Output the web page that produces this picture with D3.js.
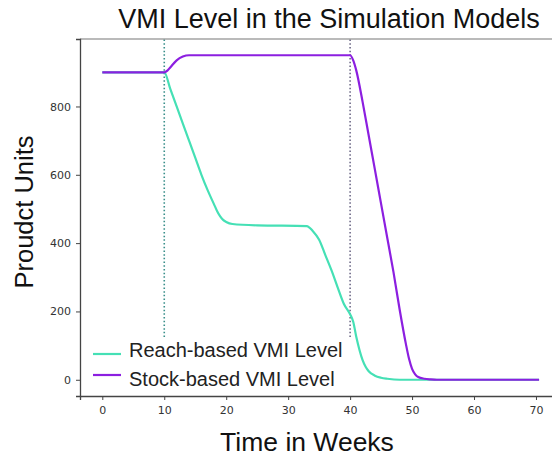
<!DOCTYPE html>
<html>
<head>
<meta charset="utf-8">
<script src="https://cdn.jsdelivr.net/npm/d3@7"></script>
<style>
  body { margin: 0; background: #fff; }
  text { font-family: "Liberation Sans", Arial, sans-serif; }
</style>
</head>
<body>
<div id="chart"></div>
<script>
// data
const reachWeeks  = [0, 10, 11, 12, 13, 14, 15, 16, 17, 18, 18.5, 19, 19.5, 20, 21, 25, 33, 34, 35, 36, 37, 38, 39, 40, 40.5, 41, 41.5, 42, 42.5, 43, 44, 45, 46, 48, 70.5];
const reachValues = [900, 900, 850, 800, 750, 700, 650, 600, 555, 515, 495, 479, 468, 462, 456, 452, 450, 435, 410, 365, 320, 270, 222, 192, 170, 125, 88, 58, 38, 25, 12, 6, 3, 0, 0];
const stockWeeks  = [0, 10, 10.5, 11, 12, 13, 14, 40, 40.5, 41, 42, 43, 44, 45, 46, 47, 48, 49, 49.5, 50, 50.5, 51, 52, 53, 54, 70.5];
const stockValues = [900, 900, 905, 915, 935, 946, 950, 950, 935, 905, 815, 715, 615, 515, 415, 315, 205, 105, 62, 32, 16, 8, 3, 1, 0, 0];
const markerWeeks = [10, 40];
const xTicks = [0, 10, 20, 30, 40, 50, 60, 70];
const yTicks = [0, 200, 400, 600, 800];
const seriesNames = ["Reach-based VMI Level", "Stock-based VMI Level"];

const W = 552, H = 456;
const margin = {top: 39, right: -10, bottom: 60, left: 80};
const width = W - margin.left - margin.right,
      height = H - margin.top - margin.bottom;

const svg = d3.select("#chart")
  .append("svg")
    .attr("width", W)
    .attr("height", H);

const g = svg.append("g")
    .attr("transform", `translate(${margin.left},${margin.top})`);

const x = d3.scaleLinear().domain([-3.6, 74.2]).range([0, width]);
const y = d3.scaleLinear().domain([-47.5, 997.5]).range([height, 0]);

// vertical dotted markers
const markerColors = ["#3a8f8a", "#6e6a88"];
g.selectAll(".marker")
  .data(markerWeeks)
  .enter().append("line")
    .attr("x1", d => x(d)).attr("x2", d => x(d))
    .attr("y1", y(125)).attr("y2", 0)
    .attr("stroke", (d, i) => markerColors[i])
    .attr("stroke-width", 1.6)
    .attr("stroke-dasharray", "1.5,2.2");

const line = d3.line()
  .x(d => x(d[0]))
  .y(d => y(d[1]))
  .curve(d3.curveMonotoneX);

const reach = reachWeeks.map((w, i) => [w, reachValues[i]]);
const stock = stockWeeks.map((w, i) => [w, stockValues[i]]);
const colors = ["#45e0b5", "#8c1fe0"];

g.append("path").datum(reach)
  .attr("d", line).attr("fill", "none")
  .attr("stroke", colors[0]).attr("stroke-width", 2.2);
g.append("path").datum(stock)
  .attr("d", line).attr("fill", "none")
  .attr("stroke", colors[1]).attr("stroke-width", 2.2);

// frame
g.append("line").attr("x1", 0).attr("x2", width).attr("y1", 0).attr("y2", 0)
  .attr("stroke", "#777").attr("stroke-width", 1.2);

const xAxis = g.append("g")
  .attr("transform", `translate(0,${height})`)
  .call(d3.axisBottom(x).tickValues(xTicks).tickSize(4).tickPadding(6));
const yAxis = g.append("g")
  .call(d3.axisLeft(y).tickValues(yTicks).tickSize(4).tickPadding(5));

[xAxis, yAxis].forEach(a => {
  a.select(".domain").attr("stroke", "#444").attr("stroke-width", 1.3);
  a.selectAll(".tick line").attr("stroke", "#444");
  a.selectAll(".tick text")
    .style("font-family", "'DejaVu Sans', sans-serif")
    .style("font-size", "11px")
    .attr("fill", "#333");
});

// legend
const legend = g.append("g").attr("transform", `translate(13,${354 - margin.top})`);
seriesNames.forEach((name, i) => {
  legend.append("line")
    .attr("x1", 0).attr("x2", 28)
    .attr("y1", i * 21).attr("y2", i * 21)
    .attr("stroke", colors[i]).attr("stroke-width", 2.2);
  legend.append("text")
    .attr("x", 36).attr("y", i * 29 + 3)
    .style("font-size", "20px")
    .attr("fill", "#222")
    .text(name);
});

// titles
svg.append("text")
  .attr("x", 329).attr("y", 28)
  .attr("text-anchor", "middle")
  .style("font-size", "27px")
  .attr("fill", "#111")
  .text("VMI Level in the Simulation Models");

svg.append("text")
  .attr("x", 307).attr("y", 451)
  .attr("text-anchor", "middle")
  .style("font-size", "26.5px")
  .attr("fill", "#111")
  .text("Time in Weeks");

svg.append("text")
  .attr("transform", `translate(33,212) rotate(-90)`)
  .attr("text-anchor", "middle")
  .style("font-size", "25.5px")
  .attr("fill", "#111")
  .text("Proudct Units");
</script>
</body>
</html>
